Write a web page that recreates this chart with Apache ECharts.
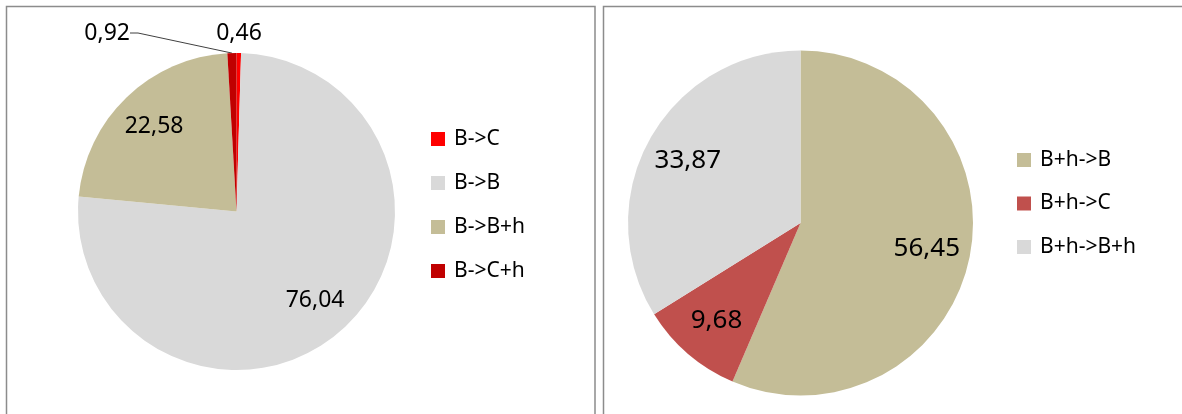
<!DOCTYPE html>
<html>
<head>
<meta charset="utf-8">
<script src="https://cdn.jsdelivr.net/npm/echarts@6/dist/echarts.min.js"></script>
<style>
  html, body { margin: 0; padding: 0; background: #fff; }
  #chart { width: 1182px; height: 414px; }
</style>
</head>
<body>
<div id="chart"></div>
<script>
var leftNames = ['B->C', 'B->B', 'B->B+h', 'B->C+h'];
var leftValues = [0.46, 76.04, 22.58, 0.92];
var leftColors = ['#ff0000', '#d9d9d9', '#c4bd97', '#c00000'];

var rightNames = ['B+h->B', 'B+h->C', 'B+h->B+h'];
var rightValues = [56.45, 9.68, 33.87];
var rightColors = ['#c4bd97', '#c0504d', '#d9d9d9'];

var FONT = '"Noto Sans", "Open Sans", sans-serif';

function fmt(v) {
  return v.toFixed(2).replace('.', ',');
}

function pieData(names, values, colors) {
  return names.map(function (n, i) {
    return { name: n, value: values[i], itemStyle: { color: colors[i] } };
  });
}

// invisible ring on top of each pie, only used to put the inside labels
// a bit further out than the default half radius
function labelRing(names, values, center, r, fontSize) {
  return {
    type: 'pie',
    center: center,
    radius: [r * 0.46, r],
    silent: true,
    tooltip: { show: false },
    emphasis: { disabled: true },
    itemStyle: { color: 'rgba(0,0,0,0)' },
    label: {
      show: true,
      position: 'inside',
      color: '#000',
      fontFamily: FONT,
      fontSize: fontSize,
      formatter: function (p) { return p.value >= 2 ? fmt(p.value) : ''; }
    },
    labelLine: { show: false },
    data: names.map(function (n, i) { return { name: n, value: values[i] }; })
  };
}

var chart = echarts.init(document.getElementById('chart'));

var leftR = 158.5, rightR = 172.5;
var leftCenter = [236.5, 211.5], rightCenter = [800.5, 223];

var leftMain = pieData(leftNames, leftValues, leftColors).map(function (d) {
  if (d.value < 2) {
    d.label = { show: true, position: 'outside' };
    d.labelLine = { show: d.name === 'B->C+h' };
  }
  return d;
});

var legendText = {
  color: '#000', fontFamily: FONT, fontSize: 21, lineHeight: 21,
  padding: [0, 0, 0, 4]
};

chart.setOption({
  animation: false,
  graphic: [
    {
      type: 'rect',
      shape: { x: 6.5, y: 6.5, width: 588.5, height: 440 },
      style: { fill: 'none', stroke: '#8c8c8c', lineWidth: 1.5 },
      silent: true
    },
    {
      type: 'rect',
      shape: { x: 603.5, y: 6.5, width: 620, height: 440 },
      style: { fill: 'none', stroke: '#8c8c8c', lineWidth: 1.5 },
      silent: true
    }
  ],
  legend: [
    {
      orient: 'vertical',
      left: 431,
      top: 128.5,
      padding: 0,
      itemWidth: 14,
      itemHeight: 14,
      itemGap: 23,
      icon: 'rect',
      textStyle: legendText,
      data: leftNames
    },
    {
      orient: 'vertical',
      left: 1017,
      top: 149.5,
      padding: 0,
      itemWidth: 14,
      itemHeight: 14,
      itemGap: 22.5,
      icon: 'rect',
      textStyle: legendText,
      data: rightNames
    }
  ],
  series: [
    {
      name: 'left',
      type: 'pie',
      center: leftCenter,
      radius: [0, leftR],
      startAngle: 90,
      clockwise: true,
      avoidLabelOverlap: false,
      itemStyle: { borderWidth: 0 },
      label: {
        show: false,
        color: '#000',
        fontFamily: FONT,
        fontSize: 23,
        formatter: function (p) { return fmt(p.value); }
      },
      labelLine: { lineStyle: { color: '#404040', width: 1 }, length: 10, length2: 8 },
      labelLayout: function (p) {
        if (p.dataIndex === 0) {
          return { x: 239, y: 33, align: 'center', verticalAlign: 'middle' };
        }
        if (p.dataIndex === 3) {
          return { x: 130, y: 33, align: 'right', verticalAlign: 'middle' };
        }
      },
      data: leftMain
    },
    labelRing(leftNames, leftValues, leftCenter, leftR, 23),
    {
      name: 'right',
      type: 'pie',
      center: rightCenter,
      radius: [0, rightR],
      startAngle: 90,
      clockwise: true,
      itemStyle: { borderWidth: 0 },
      label: { show: false },
      labelLine: { show: false },
      data: pieData(rightNames, rightValues, rightColors)
    },
    labelRing(rightNames, rightValues, rightCenter, rightR, 26)
  ]
});
</script>
</body>
</html>
